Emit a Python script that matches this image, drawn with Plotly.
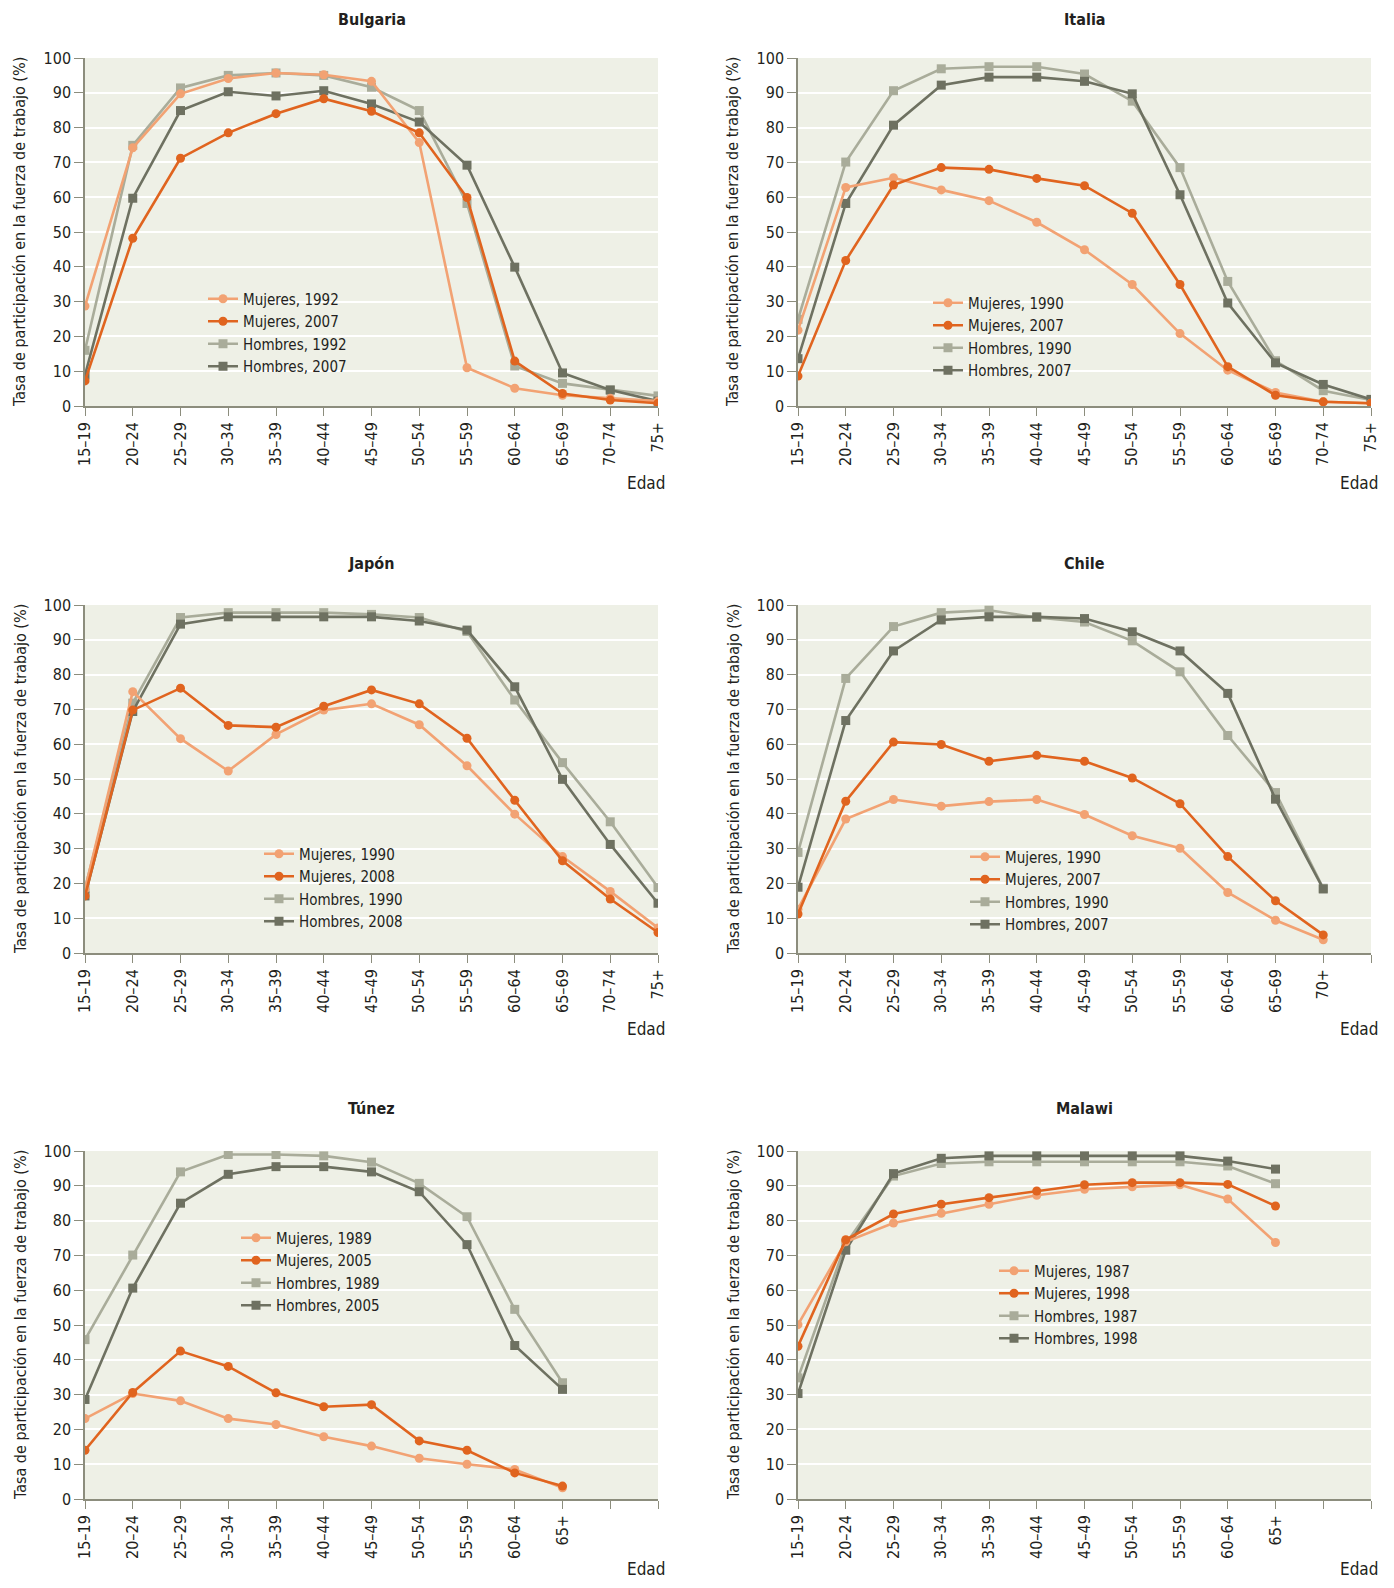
import plotly.graph_objects as go

# page is 1394x1588; the figure is drawn inside an 8px body margin
W, H = 1378, 1572
OFF = 8

# ---------------- data ----------------
age13 = ["15–19", "20–24", "25–29", "30–34", "35–39", "40–44", "45–49",
         "50–54", "55–59", "60–64", "65–69", "70–74", "75+"]
age12 = ["15–19", "20–24", "25–29", "30–34", "35–39", "40–44", "45–49",
         "50–54", "55–59", "60–64", "65–69", "70+"]
age11 = ["15–19", "20–24", "25–29", "30–34", "35–39", "40–44", "45–49",
         "50–54", "55–59", "60–64", "65+"]

countries = ["Bulgaria", "Italia", "Japón", "Chile", "Túnez", "Malawi"]

# Bulgaria
bg_labels = ["Mujeres, 1992", "Mujeres, 2007", "Hombres, 1992", "Hombres, 2007"]
bg_m_old = [28.7, 74.2, 89.7, 94.1, 95.7, 95.2, 93.3, 75.7, 11.0, 5.1, 3.1, 2.2, 1.4]
bg_m_new = [7.2, 48.2, 71.2, 78.5, 84.0, 88.3, 84.7, 78.5, 59.9, 12.9, 3.6, 1.7, 0.8]
bg_h_old = [16.0, 74.9, 91.4, 95.0, 95.7, 95.0, 91.6, 84.9, 58.2, 11.5, 6.5, 4.6, 2.9]
bg_h_new = [8.9, 59.7, 84.9, 90.3, 89.1, 90.6, 86.8, 81.6, 69.2, 39.9, 9.5, 4.6, 1.4]

# Italia
it_labels = ["Mujeres, 1990", "Mujeres, 2007", "Hombres, 1990", "Hombres, 2007"]
it_m_old = [21.8, 62.8, 65.6, 62.1, 59.0, 52.8, 44.9, 34.9, 20.8, 10.3, 3.9, 1.2, 0.8]
it_m_new = [8.6, 41.8, 63.5, 68.5, 68.0, 65.4, 63.3, 55.4, 34.9, 11.3, 3.1, 1.2, 0.8]
it_h_old = [24.9, 70.1, 90.6, 96.9, 97.5, 97.5, 95.4, 87.6, 68.5, 35.8, 13.0, 4.4, 1.7]
it_h_new = [13.6, 58.2, 80.7, 92.2, 94.5, 94.5, 93.3, 89.7, 60.7, 29.6, 12.4, 6.2, 1.9]

# Japón
jp_labels = ["Mujeres, 1990", "Mujeres, 2008", "Hombres, 1990", "Hombres, 2008"]
jp_m_old = [18.3, 75.1, 61.6, 52.3, 62.8, 69.8, 71.6, 65.6, 53.8, 39.9, 27.7, 17.7, 7.2]
jp_m_new = [16.4, 69.8, 76.1, 65.4, 64.9, 70.9, 75.6, 71.6, 61.7, 43.9, 26.5, 15.5, 5.9]
jp_h_old = [18.6, 71.8, 96.4, 97.8, 97.8, 97.8, 97.3, 96.4, 92.4, 72.7, 54.7, 37.7, 18.8]
jp_h_new = [16.4, 69.4, 94.5, 96.6, 96.6, 96.6, 96.6, 95.4, 92.8, 76.5, 49.9, 31.2, 14.3]

# Chile
cl_labels = ["Mujeres, 1990", "Mujeres, 2007", "Hombres, 1990", "Hombres, 2007"]
cl_m_old = [12.6, 38.5, 44.1, 42.2, 43.5, 44.1, 39.8, 33.7, 30.1, 17.4, 9.4, 3.8]
cl_m_new = [11.2, 43.6, 60.6, 59.9, 55.1, 56.8, 55.1, 50.3, 42.9, 27.7, 15.0, 5.2]
cl_h_old = [28.9, 78.9, 93.8, 97.8, 98.5, 96.4, 95.1, 89.7, 80.8, 62.5, 46.1, 18.6]
cl_h_new = [18.9, 66.8, 86.8, 95.7, 96.6, 96.6, 96.1, 92.3, 86.8, 74.6, 44.2, 18.4]

# Túnez
tn_labels = ["Mujeres, 1989", "Mujeres, 2005", "Hombres, 1989", "Hombres, 2005"]
tn_m_old = [23.1, 30.3, 28.2, 23.1, 21.4, 17.9, 15.2, 11.7, 10.0, 8.5, 3.2]
tn_m_new = [14.0, 30.6, 42.5, 38.1, 30.5, 26.5, 27.1, 16.7, 14.0, 7.5, 3.7]
tn_h_old = [45.8, 70.1, 94.0, 99.0, 99.0, 98.6, 96.8, 90.7, 81.1, 54.5, 33.4]
tn_h_new = [28.6, 60.6, 85.0, 93.3, 95.5, 95.5, 94.0, 88.3, 73.1, 44.1, 31.5]

# Malawi
mw_labels = ["Mujeres, 1987", "Mujeres, 1998", "Hombres, 1987", "Hombres, 1998"]
mw_m_old = [50.1, 73.9, 79.3, 82.1, 84.7, 87.3, 89.0, 89.7, 90.3, 86.2, 73.7]
mw_m_new = [43.9, 74.5, 81.9, 84.7, 86.6, 88.5, 90.3, 90.9, 90.9, 90.4, 84.2]
mw_h_old = [34.8, 73.3, 92.8, 96.4, 96.9, 96.9, 96.9, 96.9, 96.9, 95.7, 90.6]
mw_h_new = [30.3, 71.5, 93.5, 97.9, 98.6, 98.6, 98.6, 98.6, 98.6, 97.1, 94.8]

y_ticks = [0, 10, 20, 30, 40, 50, 60, 70, 80, 90, 100]
y_title = "Tasa de participación en la fuerza de trabajo (%)"
x_title = "Edad"

panels = [
    (age13, bg_labels, [bg_m_old, bg_m_new, bg_h_old, bg_h_new]),
    (age13, it_labels, [it_m_old, it_m_new, it_h_old, it_h_new]),
    (age13, jp_labels, [jp_m_old, jp_m_new, jp_h_old, jp_h_new]),
    (age12, cl_labels, [cl_m_old, cl_m_new, cl_h_old, cl_h_new]),
    (age11, tn_labels, [tn_m_old, tn_m_new, tn_h_old, tn_h_new]),
    (age11, mw_labels, [mw_m_old, mw_m_new, mw_h_old, mw_h_new]),
]

# ---------------- styling ----------------
FONT = "Liberation Sans Narrow, DejaVu Sans Condensed, Roboto Condensed, Arial Narrow, sans-serif"
C_M_OLD = "#F2A273"
C_M_NEW = "#E0641F"
C_H_OLD = "#A9AC9A"
C_H_NEW = "#6E7161"
BG = "#EEF0E6"
AXIS = "#8C8D7D"
TXT = "#231F20"
colors = [C_M_OLD, C_M_NEW, C_H_OLD, C_H_NEW]
symbols = ["circle", "circle", "square", "square"]
draw_order = [2, 3, 0, 1]  # men first, women on top

# panel geometry in page pixels (reference image coordinates)
col_x = [(85, 658), (798, 1371)]
row_y = [(58, 406), (605, 953), (1151, 1499)]
title_y = [19, 563, 1108]
edad_y = [483, 1029, 1569]
# (text start x, first-entry centre y)
legend_pos = [(245, 300), (970, 304), (301, 855), (1007, 858), (278, 1239), (1036, 1272)]

def px(x):
    return (x - OFF) / W

def py(y):
    return 1 - (y - OFF) / H

fig = go.Figure()
annotations = []
layout = {}

n_ticks = 13
for i, (cats, labels, series) in enumerate(panels):
    r, c = divmod(i, 2)
    ax = "" if i == 0 else str(i + 1)
    xa = "x" + ax
    ya = "y" + ax
    lg = "legend" if i == 0 else "legend" + str(i + 1)
    xs = list(range(len(cats)))
    for k in draw_order:
        fig.add_trace(go.Scatter(
            x=xs, y=series[k], mode="lines+markers", name=labels[k],
            xaxis=xa, yaxis=ya, legend=lg, legendrank=k + 1,
            line=dict(color=colors[k], width=2.6),
            marker=dict(symbol=symbols[k], size=9, color=colors[k]),
            hoverinfo="skip",
        ))
    x0, x1 = col_x[c]
    y0, y1 = row_y[r]
    ticktext = cats + [""] * (n_ticks - len(cats))
    layout["xaxis" + ax] = dict(
        domain=[px(x0), px(x1)], anchor=ya, range=[0, 12],
        tickmode="array", tickvals=list(range(n_ticks)), ticktext=ticktext,
        tickangle=-90, ticks="outside", ticklen=8, tickwidth=1.3, tickcolor=AXIS,
        showline=True, linecolor=AXIS, linewidth=1.5, showgrid=False, zeroline=False,
        tickfont=dict(family=FONT, size=16, color=TXT), fixedrange=True,
    )
    layout["yaxis" + ax] = dict(
        domain=[py(y1), py(y0)], anchor=xa, range=[0, 100],
        tickmode="array", tickvals=y_ticks,
        ticks="outside", ticklen=9, tickwidth=1.3, tickcolor=AXIS,
        showline=True, linecolor=AXIS, linewidth=1.5,
        showgrid=True, gridcolor="white", gridwidth=1.5, zeroline=False,
        tickfont=dict(family=FONT, size=16, color=TXT), fixedrange=True,
    )
    tx, cy = legend_pos[i]
    layout[lg] = dict(
        x=px(tx - 42), y=py(cy - 17.5), xanchor="left", yanchor="top",
        bgcolor="rgba(0,0,0,0)", borderwidth=0,
        font=dict(family=FONT, size=15, color=TXT),
        itemwidth=30, tracegroupgap=0, traceorder="normal",
    )
    # panel title
    annotations.append(dict(
        text="<b>" + countries[i] + "</b>", x=px((x0 + x1) / 2), y=py(title_y[r]),
        xref="paper", yref="paper", xanchor="center", yanchor="middle",
        showarrow=False, font=dict(family=FONT, size=16, color=TXT),
    ))
    # y title
    annotations.append(dict(
        text=y_title, x=px(x0 - 65), y=py((y0 + y1) / 2), textangle=-90,
        xref="paper", yref="paper", xanchor="center", yanchor="middle",
        showarrow=False, font=dict(family=FONT, size=16, color=TXT),
    ))
    # x title
    annotations.append(dict(
        text=x_title, x=px(x1 + 9), y=py(edad_y[r]),
        xref="paper", yref="paper", xanchor="right", yanchor="middle",
        showarrow=False, font=dict(family=FONT, size=17, color=TXT),
    ))

fig.update_layout(
    width=W, height=H, margin=dict(l=0, r=0, t=0, b=0, autoexpand=False),
    paper_bgcolor="white", plot_bgcolor=BG,
    showlegend=True, annotations=annotations,
    font=dict(family=FONT, color=TXT),
    **layout,
)

fig.write_html("out.html")
